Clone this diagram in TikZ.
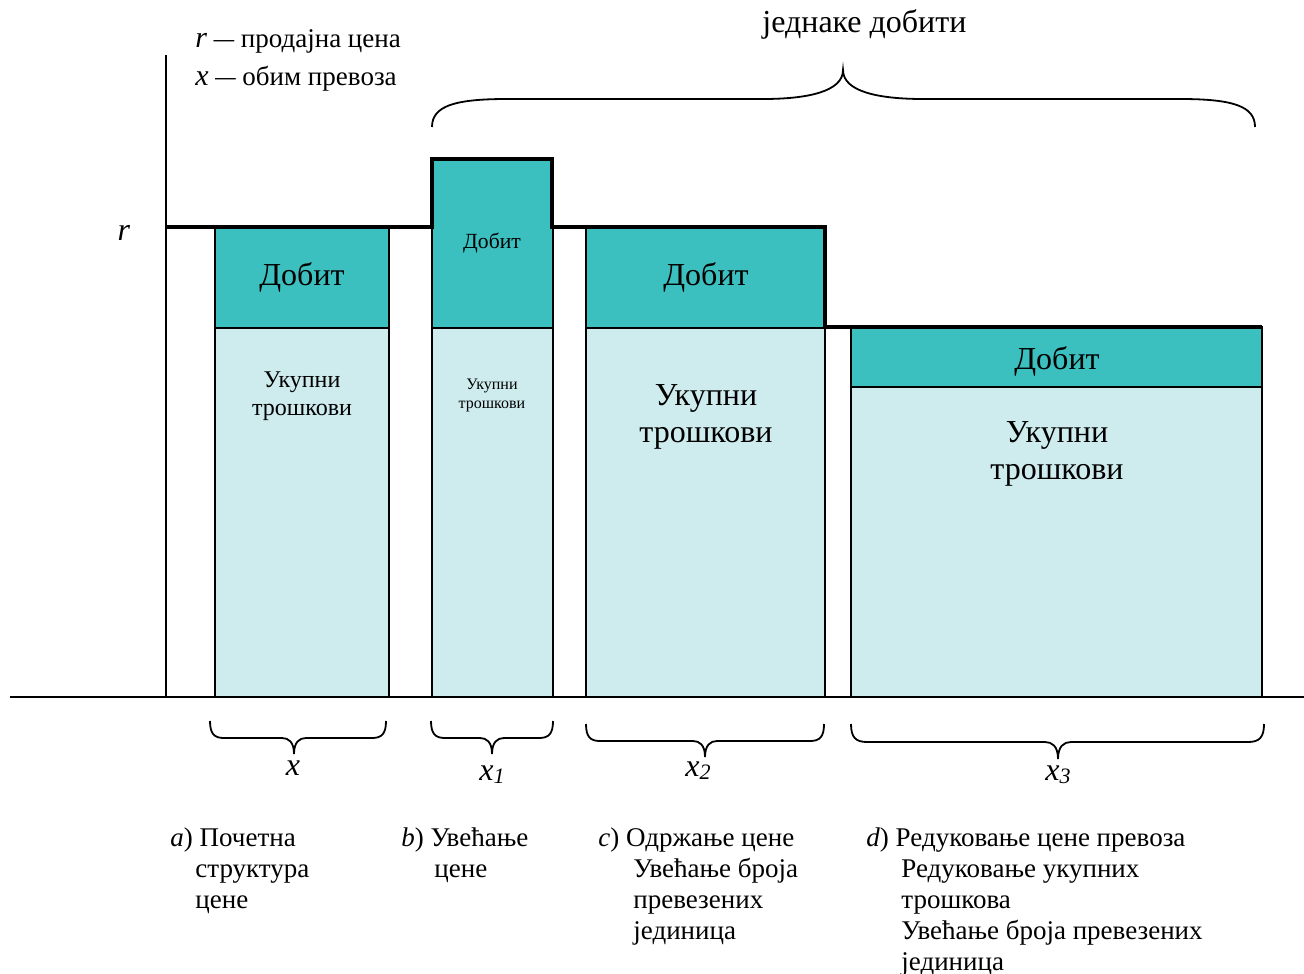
\documentclass[tikz,border=0pt]{standalone}
\usepackage{fontspec}
\setmainfont{Liberation Serif}
\definecolor{profit}{HTML}{3CBFBF}
\definecolor{cost}{HTML}{CEEBEE}
\newcommand{\brc}[8]{\draw[bracestyle] (#1,#3) .. controls (#1,#3+0.75*#4-0.75*#3) and (#1+0.3*#7,#4) .. (#1+#7,#4) -- (#5-#8,#4) .. controls (#5-0.45*#8,#4) and (#5,#4+0.25*#6-0.25*#4) .. (#5,#6) .. controls (#5,#4+0.25*#6-0.25*#4) and (#5+0.45*#8,#4) .. (#5+#8,#4) -- (#2-#7,#4) .. controls (#2-0.3*#7,#4) and (#2,#3+0.75*#4-0.75*#3) .. (#2,#3);}
\tikzset{
  profitbox/.style={fill=profit, draw=black, line width=1pt},
  costbox/.style={fill=cost, draw=black, line width=1pt},
  priceline/.style={line width=2pt, line join=miter},
  axisline/.style={line width=0.8pt},
  bracestyle/.style={line width=0.9pt},
  lbl/.style={inner sep=0pt, anchor=base},
  captext/.style={inner sep=0pt, anchor=base west, font=\fontsize{13.5}{16}\selectfont},
  txtbig/.style={font=\fontsize{16}{19}\selectfont},
  txtmid/.style={font=\fontsize{12}{14}\selectfont},
  txtsmall/.style={font=\fontsize{10.8}{13}\selectfont},
  txttiny/.style={font=\fontsize{8}{10}\selectfont},
  varlbl/.style={inner sep=0pt, anchor=base, font=\fontsize{16}{19}\selectfont},
}
\newcommand{\ldash}{\scalebox{1.5}[1]{–}}
\begin{document}
\begin{tikzpicture}[x=0.5pt,y=-0.5pt]
\useasboundingbox (0,0) rectangle (1304,973);
% bars
\draw[costbox] (215,328) rectangle (389,697);
\draw[profitbox] (215,227) rectangle (389,328);
\draw[costbox] (432,328) rectangle (553,697);
\draw[profitbox] (432,159) rectangle (553,328);
\draw[costbox] (586,328) rectangle (825,697);
\draw[profitbox] (586,227) rectangle (825,328);
\draw[costbox] (851,387) rectangle (1262,697);
\draw[profitbox] (851,327) rectangle (1262,387);
% axes
\draw[axisline] (166,55) -- (166,697);
\draw[axisline] (10,697) -- (1304,697);
% price line
\draw[priceline] (166,227) -- (432,227) -- (432,159) -- (552,159) -- (552,227) -- (825,227) -- (825,327) -- (1262,327);
% bar texts
\node[lbl,txtbig] (pa) at (302,285) {Добит};
\node[lbl,txtmid] (ca1) at (302,387) {Укупни};
\node[lbl,txtmid] (ca2) at (302,415) {трошкови};
\node[lbl,txtsmall] (pb) at (492,248) {Добит};
\node[lbl,txttiny] (cb1) at (492,389) {Укупни};
\node[lbl,txttiny] (cb2) at (492,408) {трошкови};
\node[lbl,txtbig] (pc) at (706,285) {Добит};
\node[lbl,txtbig] (cc1) at (706,405) {Укупни};
\node[lbl,txtbig] (cc2) at (706,442) {трошкови};
\node[lbl,txtbig] (pd) at (1057,369) {Добит};
\node[lbl,txtbig] (cd1) at (1057,442) {Укупни};
\node[lbl,txtbig] (cd2) at (1057,479) {трошкови};
% axis labels
\node[varlbl] (r) at (124,240) {\textit{r}};
\node[captext] (leg1) at (195,48) {{\fontsize{15}{16}\selectfont\textit{r}} \ldash\ продајна цена};
\node[captext] (leg2) at (195,86) {{\fontsize{15}{16}\selectfont\textit{x}} \ldash\ обим превоза};
\node[inner sep=0pt, anchor=base west, font=\fontsize{16}{19}\selectfont] (eq) at (762,33) {једнаке добити};
% braces
\brc{432}{1255}{127}{99}{843}{70}{75}{80}
\brc{210}{386}{721}{738}{294}{754}{14}{12}
\brc{431}{553}{721}{738}{492}{754}{14}{12}
\brc{586}{824}{724}{741}{705}{757}{14}{12}
\brc{851}{1264}{724}{742}{1058}{759}{16}{13}
\node[varlbl] (xa) at (293,775) {\textit{x}};
\node[varlbl] (xb) at (492,780) {\textit{x\raisebox{-0.25ex}{\fontsize{11}{12}\selectfont 1}}};
\node[varlbl] (xc) at (698,776) {\textit{x\raisebox{-0.25ex}{\fontsize{11}{12}\selectfont 2}}};
\node[varlbl] (xd) at (1058,780) {\textit{x\raisebox{-0.25ex}{\fontsize{11}{12}\selectfont 3}}};
% captions
\node[captext] (a1) at (170,846) {\textit{a}) Почетна};
\node[captext] (a2) at (195,877) {структура};
\node[captext] (a3) at (195,908) {цене};
\node[captext] (b1) at (401,846) {\textit{b}) Увећање};
\node[captext] (b2) at (434,877) {цене};
\node[captext] (c1) at (598,846) {\textit{c}) Одржање цене};
\node[captext] (c2) at (633,877) {Увећање броја};
\node[captext] (c3) at (633,908) {превезених};
\node[captext] (c4) at (633,939) {јединица};
\node[captext] (d1) at (866,846) {\textit{d}) Редуковање цене превоза};
\node[captext] (d2) at (901,877) {Редуковање укупних};
\node[captext] (d3) at (901,908) {трошкова};
\node[captext] (d4) at (901,939) {Увећање броја превезених};
\node[captext] (d5) at (901,970) {јединица};
\end{tikzpicture}
\end{document}
